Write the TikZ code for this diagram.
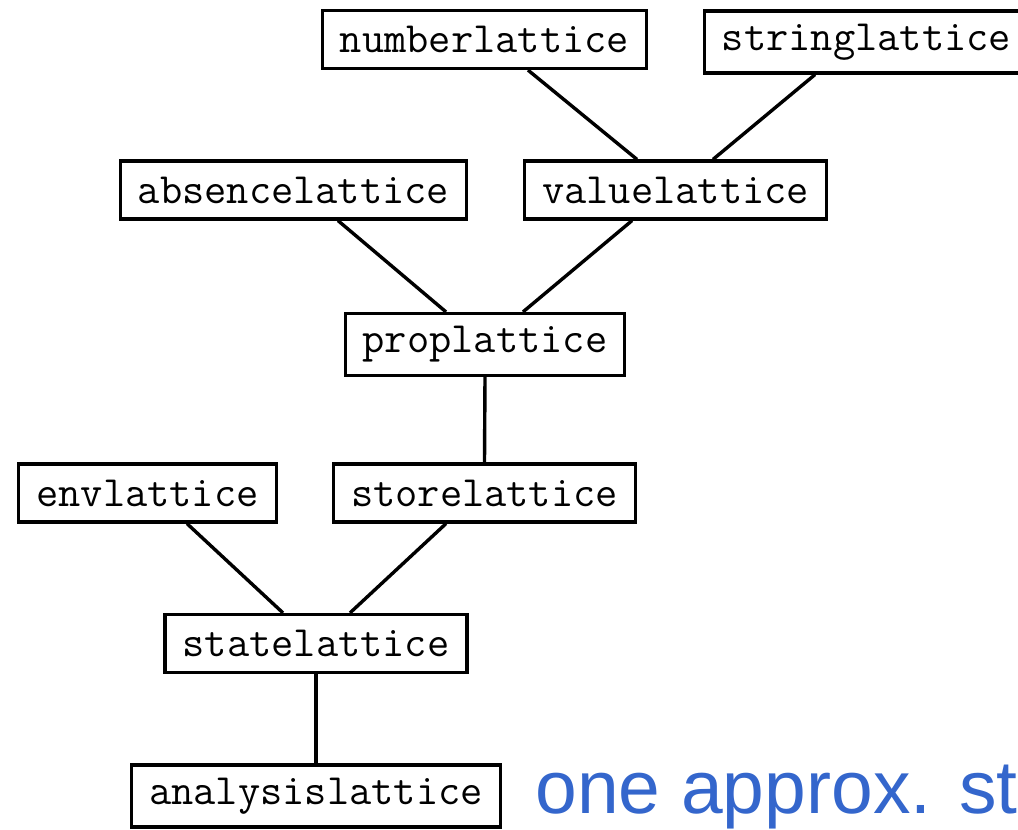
\documentclass[tikz,border=0pt]{standalone}
\usepackage{fontspec}
\setmainfont{Liberation Sans}
\definecolor{noteblue}{RGB}{52,102,204}
\tikzstyle{lattice}=[draw,line width=1.6pt,inner xsep=8.75pt,inner ysep=0pt,minimum height=29pt,font=\ttfamily\fontsize{21.6}{23}\selectfont]
\tikzstyle{tall lattice} = [lattice, minimum height=31pt]
\tikzstyle{edge} = [draw,line width=1.7pt,-]

\begin{document}
\begin{tikzpicture}[x=0.5pt,y=-0.5pt]
    \useasboundingbox (0,0) rectangle (1018,830);
    % First we draw the lattices
    \foreach \pos/\name in {{(484.5,39.5)/numberlattice}, {(293.5,190)/absencelattice}, {(675.5,190)/valuelattice}, {(147.5,493)/envlattice}, {(484.5,493)/storelattice}, {(316,643.5)/statelattice}}
        \node[lattice] (\name) at \pos {\name};
    \foreach \pos/\name in {{(866.5,42)/stringlattice}, {(485,344.5)/proplattice}, {(316,796)/analysislattice}}
        \node[tall lattice] (\name) at \pos {\name};

    % Connect lattices with edges
    \foreach \source/\sx/\dest/\dx in {numberlattice/21.75/valuelattice/-19.25, stringlattice/-25.75/valuelattice/18.75, absencelattice/22.25/proplattice/-19.5, valuelattice/-21.75/proplattice/19, proplattice/0/storelattice/0, envlattice/19.75/statelattice/-16.5, storelattice/-19.25/statelattice/17, statelattice/0/analysislattice/0}
        \path[edge] ([xshift=\sx pt]\source.south) -- ([xshift=\dx pt]\dest.north);

    \node[anchor=base west,inner sep=0pt,text=noteblue,font=\fontsize{37.5}{40}\selectfont] (note) at (535,813) {one approx. st};
\end{tikzpicture}
\end{document}
